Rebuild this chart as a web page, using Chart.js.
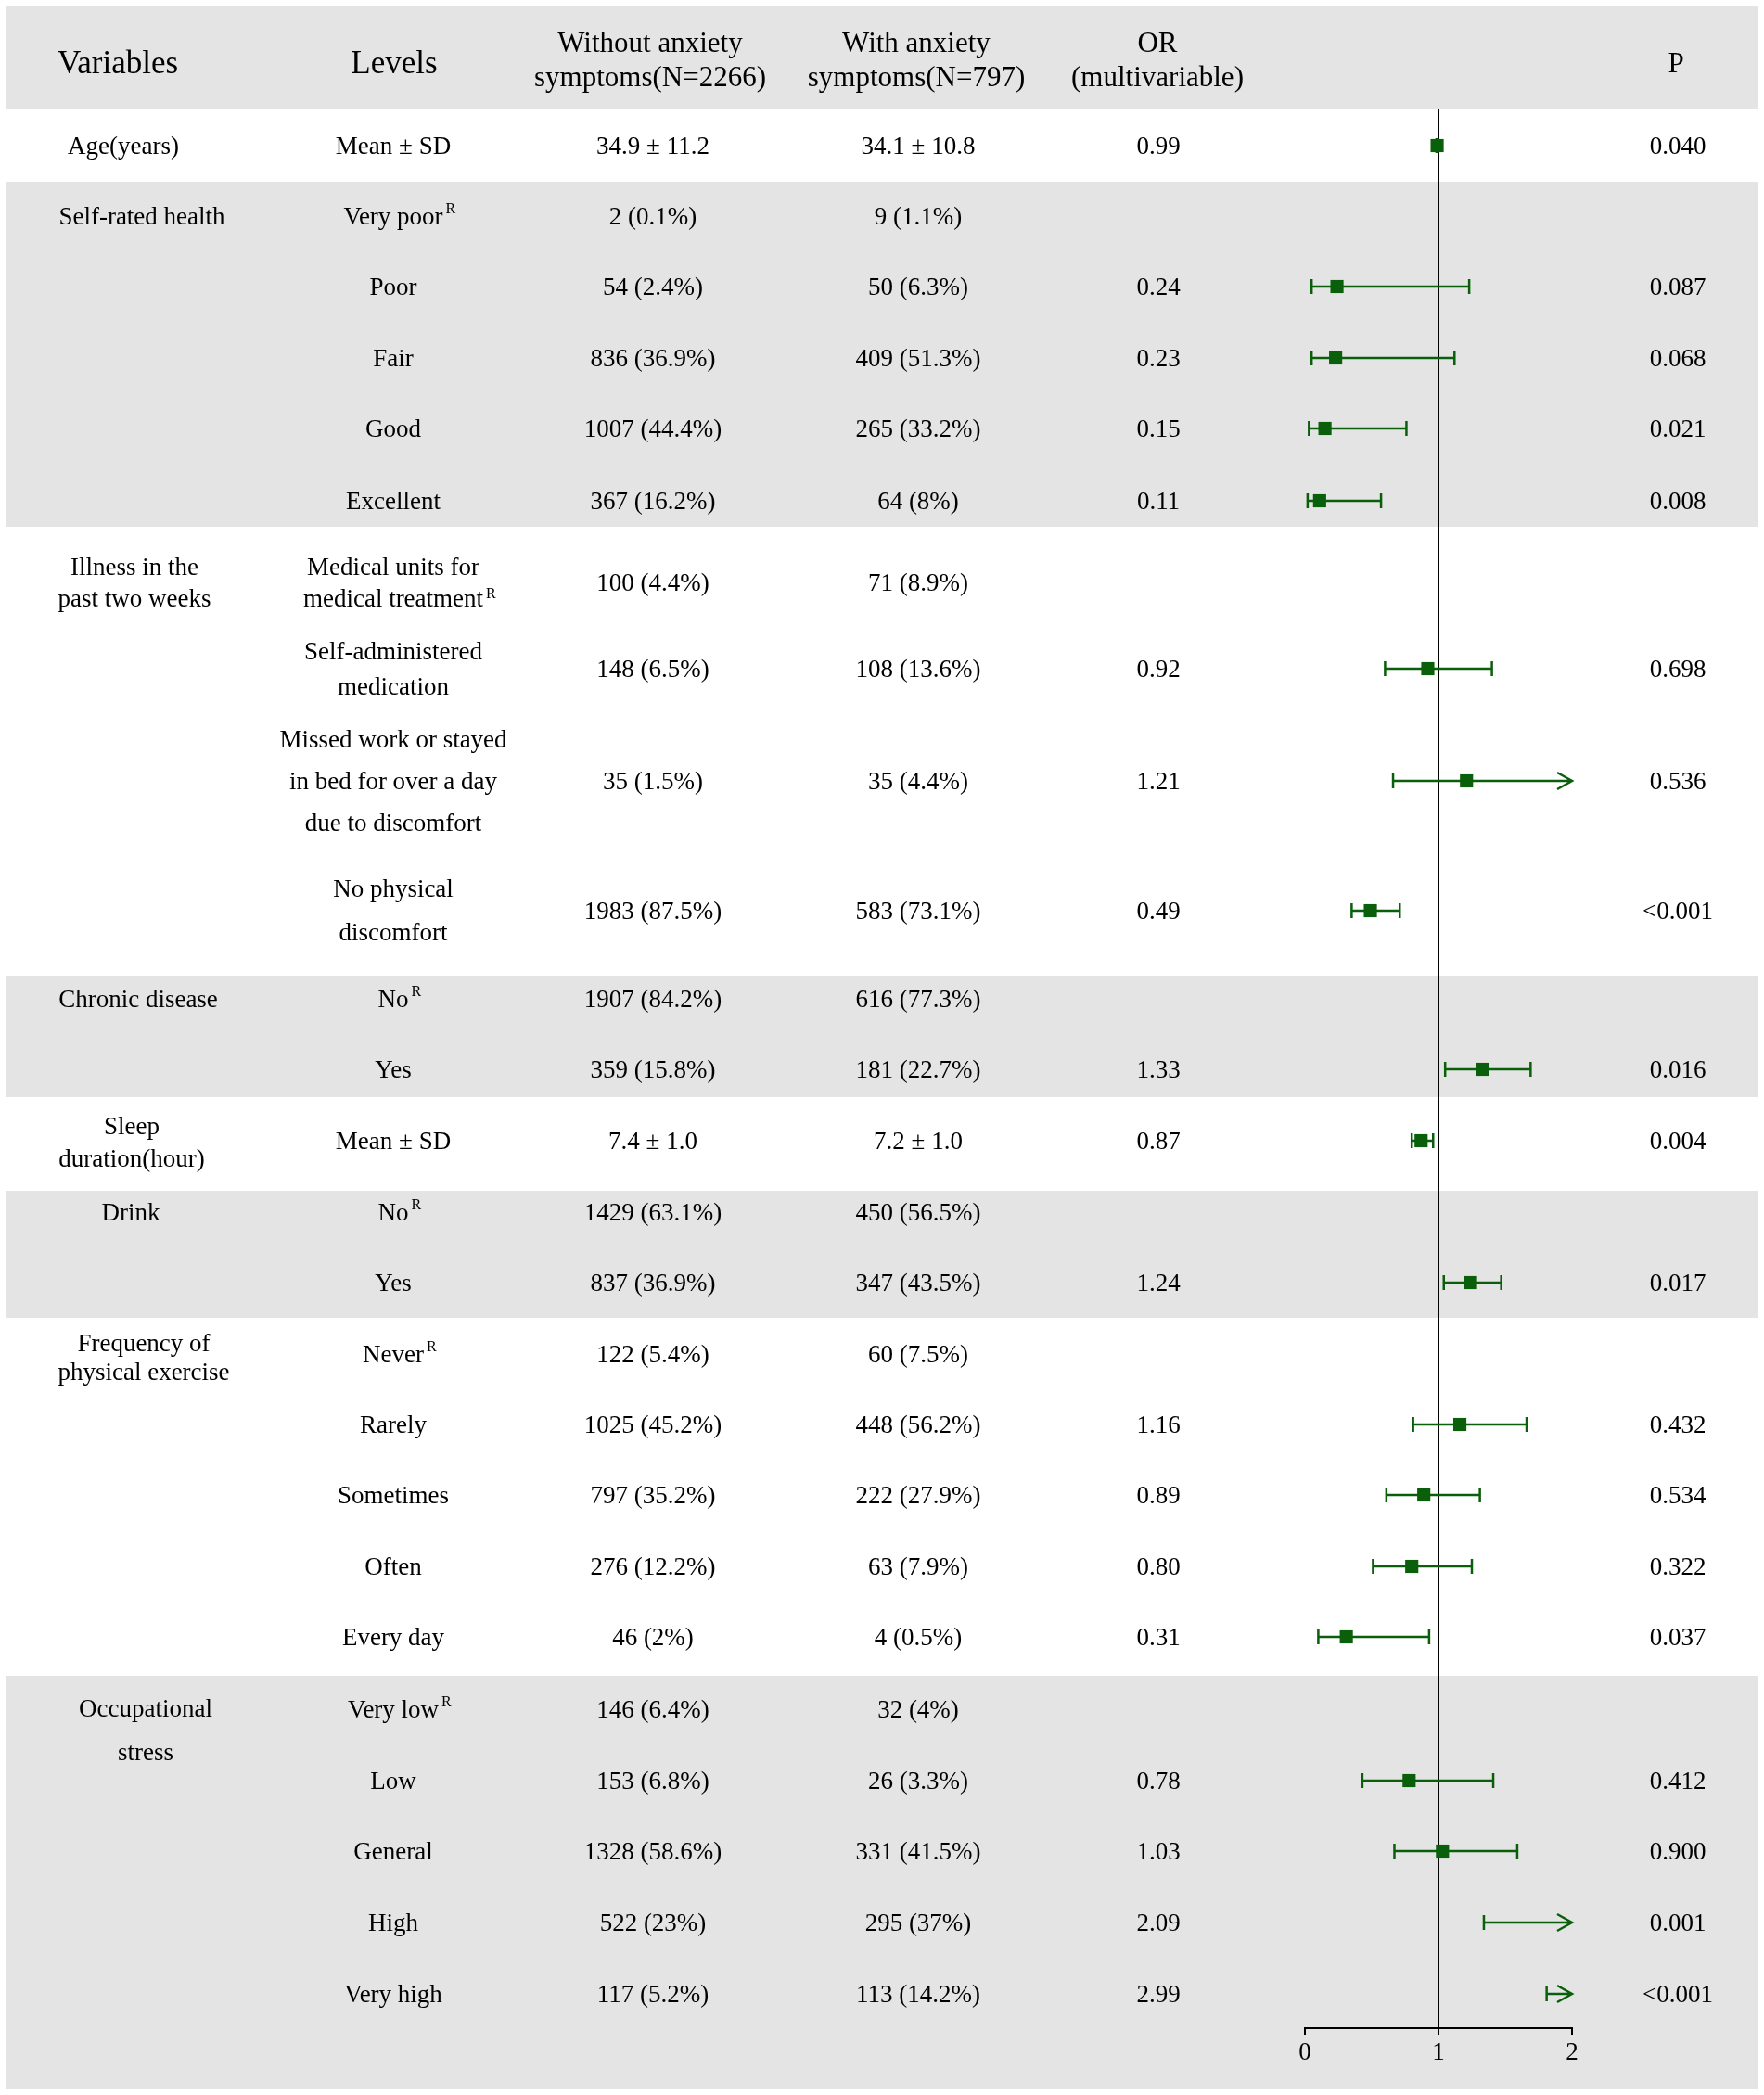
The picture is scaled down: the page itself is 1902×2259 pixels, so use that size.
<!DOCTYPE html>
<html>
<head>
<meta charset="utf-8">
<title>Forest plot - anxiety symptoms</title>
<script src="https://cdn.jsdelivr.net/npm/chart.js@4.4.1/dist/chart.umd.min.js"></script>
<style>
  html, body { margin: 0; padding: 0; background: #fff; }
  #page {
    position: relative; width: 1902px; height: 2259px; overflow: hidden;
    font-family: "Liberation Serif", "Times New Roman", serif; color: #000;
  }
  .band { position: absolute; left: 6px; width: 1890px; background: #e4e4e4; }
  .t {
    position: absolute; transform: translate(-50%, -50%);
    white-space: nowrap; text-align: center; font-size: 27px; line-height: 1;
  }
  .rel { position: relative; }
  .sup { position: absolute; left: 100%; top: -0.45em; margin-left: 3px; font-size: 16px; }
  #forest { position: absolute; left: 0; top: 0; }
</style>
</head>
<body>
<div id="page">
  <canvas id="forest" width="1902" height="2259"></canvas>
</div>
<script>
// ---- data ----
const columnTitles = ['Variables', 'Levels', 'Without anxiety\nsymptoms(N=2266)',
  'With anxiety\nsymptoms(N=797)', 'OR\n(multivariable)', 'P'];

const variableNames = ['Age(years)', 'Self-rated health', 'Illness in the\npast two weeks',
  'Chronic disease', 'Sleep\nduration(hour)', 'Drink', 'Frequency of\nphysical exercise',
  'Occupational\nstress'];
const levelCounts = [1, 5, 4, 2, 1, 2, 5, 5];

const levels = ['Mean ± SD',
  'Very poor', 'Poor', 'Fair', 'Good', 'Excellent',
  'Medical units for\nmedical treatment', 'Self-administered\nmedication',
  'Missed work or stayed\nin bed for over a day\ndue to discomfort', 'No physical\ndiscomfort',
  'No', 'Yes',
  'Mean ± SD',
  'No', 'Yes',
  'Never', 'Rarely', 'Sometimes', 'Often', 'Every day',
  'Very low', 'Low', 'General', 'High', 'Very high'];
const isReference = [false,
  true, false, false, false, false,
  true, false, false, false,
  true, false,
  false,
  true, false,
  true, false, false, false, false,
  true, false, false, false, false];

const withoutAnxiety = ['34.9 ± 11.2',
  '2 (0.1%)', '54 (2.4%)', '836 (36.9%)', '1007 (44.4%)', '367 (16.2%)',
  '100 (4.4%)', '148 (6.5%)', '35 (1.5%)', '1983 (87.5%)',
  '1907 (84.2%)', '359 (15.8%)',
  '7.4 ± 1.0',
  '1429 (63.1%)', '837 (36.9%)',
  '122 (5.4%)', '1025 (45.2%)', '797 (35.2%)', '276 (12.2%)', '46 (2%)',
  '146 (6.4%)', '153 (6.8%)', '1328 (58.6%)', '522 (23%)', '117 (5.2%)'];
const withAnxiety = ['34.1 ± 10.8',
  '9 (1.1%)', '50 (6.3%)', '409 (51.3%)', '265 (33.2%)', '64 (8%)',
  '71 (8.9%)', '108 (13.6%)', '35 (4.4%)', '583 (73.1%)',
  '616 (77.3%)', '181 (22.7%)',
  '7.2 ± 1.0',
  '450 (56.5%)', '347 (43.5%)',
  '60 (7.5%)', '448 (56.2%)', '222 (27.9%)', '63 (7.9%)', '4 (0.5%)',
  '32 (4%)', '26 (3.3%)', '331 (41.5%)', '295 (37%)', '113 (14.2%)'];

const orValues = [0.99,
  null, 0.24, 0.23, 0.15, 0.11,
  null, 0.92, 1.21, 0.49,
  null, 1.33,
  0.87,
  null, 1.24,
  null, 1.16, 0.89, 0.80, 0.31,
  null, 0.78, 1.03, 2.09, 2.99];
const ciLower = [0.985,
  null, 0.05, 0.05, 0.03, 0.02,
  null, 0.60, 0.66, 0.35,
  null, 1.05,
  0.80,
  null, 1.04,
  null, 0.81, 0.61, 0.51, 0.10,
  null, 0.43, 0.67, 1.34, 1.81];
const ciUpper = [0.995,
  null, 1.23, 1.12, 0.76, 0.57,
  null, 1.40, 2.22, 0.71,
  null, 1.69,
  0.96,
  null, 1.47,
  null, 1.66, 1.31, 1.25, 0.93,
  null, 1.41, 1.59, 3.25, 4.94];
const pValues = ['0.040',
  '', '0.087', '0.068', '0.021', '0.008',
  '', '0.698', '0.536', '<0.001',
  '', '0.016',
  '0.004',
  '', '0.017',
  '', '0.432', '0.534', '0.322', '0.037',
  '', '0.412', '0.900', '0.001', '<0.001'];

const xTicks = [0, 1, 2];

// ---- layout (page pixels) ----
const headerTop = 6, headerBottom = 118, axisY = 2187;
const bandEdges = [118, 196, 568, 1052, 1183, 1284, 1421, 1807, 2253];
const rowCenters = [157, 233, 309, 386, 462, 540, 628, 721, 842, 982, 1077, 1153, 1230,
  1307, 1383, 1460, 1536, 1612, 1689, 1765, 1843, 1920, 1996, 2073, 2150];
const varLabelX = [133, 153, 145, 149, 142, 141, 155, 157];
const varLabelGap = [0, 0, 34, 0, 35, 0, 31, 47];
const varLabelShift = [0, 0, 0, 0, 2, 0, 4, 23];
const levelGap = { 6: 34, 7: 38, 8: 45, 9: 47 };
const colX = { level: 424, without: 704, with: 990, or: 1249, p: 1809 };
const green = '#0a5f0a';

const page = document.getElementById('page');

function addText(html, x, y, extra) {
  const d = document.createElement('div');
  d.className = 't';
  d.style.left = x + 'px';
  d.style.top = y + 'px';
  Object.assign(d.style, extra || {});
  d.innerHTML = html;
  page.appendChild(d);
  return d;
}
function lines(s) { return s.split('\n'); }

// background bands: header and every other variable block
function addBand(top, bottom) {
  const b = document.createElement('div');
  b.className = 'band';
  b.style.top = top + 'px';
  b.style.height = (bottom - top) + 'px';
  page.insertBefore(b, page.firstChild);
}
addBand(headerTop, headerBottom);
for (let v = 1; v < variableNames.length; v += 2) addBand(bandEdges[v], bandEdges[v + 1]);

// header
const headX = [127, 425, 701, 988, 1248, 1807];
columnTitles.forEach((title, i) => {
  const ls = lines(title);
  const big = ls.length === 1 && i < 2;
  addText(ls.join('<br>'), headX[i], ls.length === 1 ? 67 : 64,
    { fontSize: big ? '35px' : '31px', lineHeight: '37px' });
});

// variable labels
let first = 0;
variableNames.forEach((name, v) => {
  const ls = lines(name);
  addText(ls.join('<br>'), varLabelX[v], rowCenters[first] + varLabelShift[v],
    { lineHeight: (varLabelGap[v] || 27) + 'px' });
  first += levelCounts[v];
});

// per-row columns
levels.forEach((lv, i) => {
  const ls = lines(lv);
  if (isReference[i]) {
    ls[ls.length - 1] = '<span class="rel">' + ls[ls.length - 1] + '<span class="sup">R</span></span>';
  }
  addText(ls.join('<br>'), colX.level, rowCenters[i], { lineHeight: (levelGap[i] || 27) + 'px' });
  addText(withoutAnxiety[i], colX.without, rowCenters[i]);
  addText(withAnxiety[i], colX.with, rowCenters[i]);
  if (orValues[i] != null) addText(orValues[i].toFixed(2), colX.or, rowCenters[i]);
  if (pValues[i]) addText(pValues[i], colX.p, rowCenters[i]);
});

// ---- forest plot ----
// confidence intervals with end caps, arrow when the bound runs past the axis
const ciPlugin = {
  id: 'ciBars',
  beforeDatasetsDraw(chart) {
    const { ctx, scales: { x, y } } = chart;
    ctx.save();
    ctx.strokeStyle = green;
    ctx.lineWidth = 2.5;
    orValues.forEach((v, i) => {
      if (v == null) return;
      const yc = y.getPixelForValue(rowCenters[i]);
      const x1 = x.getPixelForValue(ciLower[i]);
      const over = ciUpper[i] > x.max;
      const x2 = x.getPixelForValue(Math.min(ciUpper[i], x.max));
      ctx.beginPath();
      ctx.moveTo(x1, yc); ctx.lineTo(x2, yc);
      ctx.moveTo(x1, yc - 8); ctx.lineTo(x1, yc + 8);
      if (over) {
        ctx.moveTo(x2 - 16, yc - 9); ctx.lineTo(x2, yc); ctx.lineTo(x2 - 16, yc + 9);
      } else {
        ctx.moveTo(x2, yc - 8); ctx.lineTo(x2, yc + 8);
      }
      ctx.stroke();
    });
    ctx.restore();
  }
};

const points = [];
orValues.forEach((v, i) => { if (v != null) points.push({ x: v, y: rowCenters[i] }); });

new Chart(document.getElementById('forest'), {
  type: 'scatter',
  data: {
    datasets: [{
      data: points,
      pointStyle: 'rect',
      pointRadius: 10,
      pointHoverRadius: 10,
      backgroundColor: green,
      borderColor: green,
      borderWidth: 0,
      clip: 0
    }]
  },
  options: {
    responsive: false,
    animation: false,
    devicePixelRatio: 1,
    events: [],
    layout: { padding: { left: 1407, right: 207, top: headerBottom, bottom: 0 } },
    plugins: { legend: { display: false }, tooltip: { enabled: false } },
    scales: {
      x: {
        type: 'linear', min: 0, max: 2,
        afterBuildTicks: s => { s.ticks = xTicks.map(v => ({ value: v })); },
        afterFit: s => { s.height = 2259 - axisY; },
        grid: {
          color: c => (c.tick && c.tick.value === 1 ? '#000' : 'rgba(0,0,0,0)'),
          lineWidth: 2,
          drawTicks: true, tickLength: 7, tickColor: '#000', tickWidth: 2
        },
        border: { display: true, color: '#000', width: 2 },
        ticks: { padding: 4, color: '#000', font: { family: 'Liberation Serif', size: 27 } }
      },
      y: { type: 'linear', min: headerBottom, max: axisY, reverse: true, display: false }
    }
  },
  plugins: [ciPlugin]
});
</script>
</body>
</html>
